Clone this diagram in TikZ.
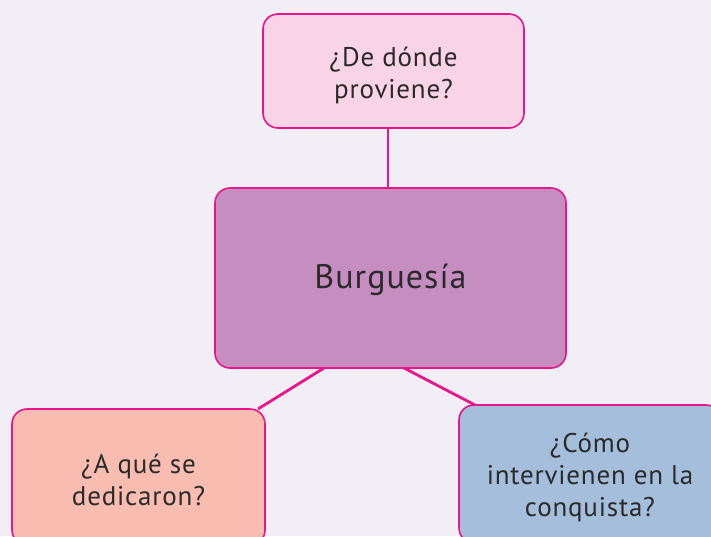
\documentclass[tikz,border=0pt]{standalone}
\usepackage{fontspec}
\setmainfont{PT Sans}[LetterSpace=3]
\definecolor{bg}{HTML}{F2EEF5}
\definecolor{mag}{HTML}{E8158C}
\definecolor{topfill}{HTML}{F9D3E6}
\definecolor{midfill}{HTML}{C68DC0}
\definecolor{leftfill}{HTML}{F8BDB0}
\definecolor{rightfill}{HTML}{A5BEDC}
\definecolor{txt}{HTML}{2A2A2A}
\tikzset{
  box/.style={draw=mag, line width=1.6pt, rounded corners=15pt, inner sep=0pt},
  lab/.style={text=txt, align=center, inner sep=0pt, font=\fontsize{27}{32}\selectfont},
  biglab/.style={text=txt, align=center, inner sep=0pt, font=\fontsize{34}{38}\selectfont},
  link/.style={draw=mag, line width=2.8pt},
}
\begin{document}
\begin{tikzpicture}[x=1pt,y=-1pt]
\useasboundingbox (0,0) rectangle (711,536);
\fill[bg] (0,0) rectangle (711,536);
\begin{scope}
\clip (0,0) rectangle (711,536);
\node[box, fill=topfill, minimum width=261pt, minimum height=114pt,
  label={[lab, yshift=-4pt]center:{¿De dónde\\proviene?}}] (top) at (393.5,71) {};
\node[box, fill=midfill, minimum width=351pt, minimum height=180pt,
  label={[biglab, yshift=-2pt]center:{Burguesía}}] (mid) at (390.5,278) {};
\node[box, fill=leftfill, minimum width=253pt, minimum height=136pt,
  label={[lab, yshift=-3pt]center:{¿A qué se\\dedicaron?}}] (left) at (138.5,477) {};
\node[box, fill=rightfill, minimum width=262pt, minimum height=138pt,
  label={[lab, yshift=-3pt]center:{¿Cómo\\intervienen en la\\conquista?}}] (right) at (590,474) {};
\coordinate (t1) at (388,128);
\coordinate (t2) at (388,188);
\draw[link] (top.south -| t1) -- (mid.north -| t2);
\coordinate (l1) at (324,368);
\coordinate (l2) at (258,409);
\coordinate (r1) at (404,368);
\coordinate (r2) at (475,405);
\draw[link] (l1) -- (l2);
\draw[link] (r1) -- (r2);
\end{scope}
\end{tikzpicture}
\end{document}
